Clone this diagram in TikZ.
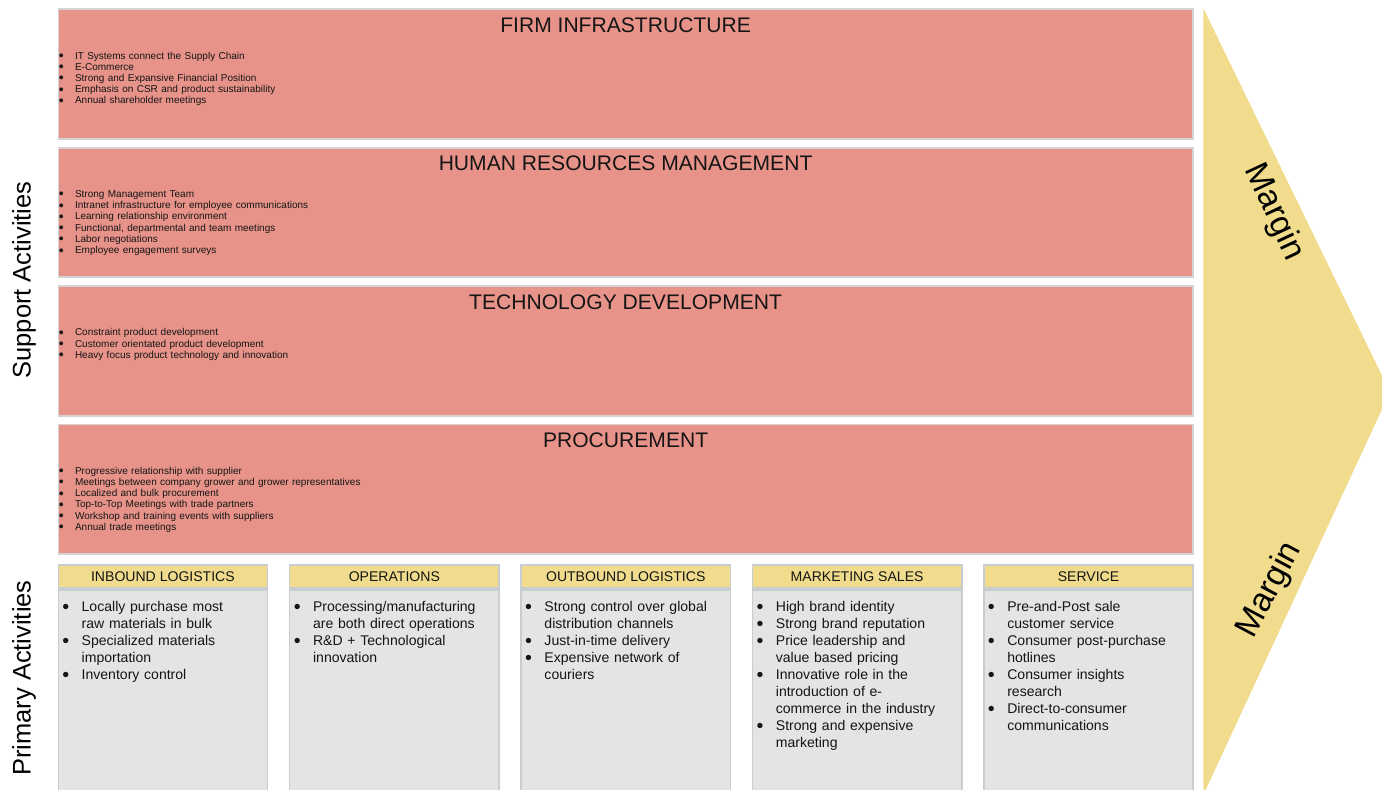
\documentclass[tikz,border=0pt]{standalone}
\usepackage{fontspec}
\usepackage{graphicx}
\setmainfont{Liberation Sans}
\usetikzlibrary{positioning,calc}
\definecolor{ink}{HTML}{151515}
\definecolor{salmon}{HTML}{E79389}
\definecolor{edge}{HTML}{D3D3D3}
\definecolor{sand}{HTML}{F0DC8C}
\definecolor{mist}{HTML}{E4E4E4}
\definecolor{rim}{HTML}{C8CDD2}
\newlength{\bulletgap}
% one bullet point; wrapped lines hang under the text
\newcommand{\bitem}[1]{\noindent\hangindent=\bulletgap\hangafter=1\strut\makebox[\bulletgap][l]{\raisebox{-0.14em}{\scalebox{1.4}{\textbullet}}}#1\par}
\tikzset{
  supbox/.style={anchor=north west, draw=edge, fill=salmon, line width=1.1pt, minimum width=22.69cm, minimum height=2.59cm, inner sep=0pt},
  suptitle/.style={anchor=base, font=\fontsize{12}{14}\selectfont, text=ink, inner sep=0pt},
  suplist/.style={anchor=north west, inner sep=0pt, text width=12cm, text=ink, font=\fontsize{5.7}{6.4}\selectfont\setlength{\bulletgap}{9.2pt}\raggedright},
  headbox/.style={anchor=north west, draw=rim, fill=sand, line width=0.9pt, minimum width=4.186cm, minimum height=0.47cm, inner sep=0pt, font=\fontsize{8}{9.6}\selectfont, text=ink},
  bodybox/.style={draw=rim, fill=mist, line width=0.9pt, minimum width=4.186cm, minimum height=4.3cm, inner sep=0pt},
  prilist/.style={anchor=north west, inner sep=0pt, text width=4.05cm, text=ink, font=\fontsize{8}{9.7}\selectfont\setlength{\bulletgap}{11pt}\raggedright},
  side/.style={font=\fontsize{14.5}{16}\selectfont, text=black, inner sep=0pt},
  marg/.style={font=\fontsize{19}{22}\selectfont, text=black, inner sep=0pt},
}
\begin{document}
\begin{tikzpicture}[x=0.02cm, y=-0.02cm]
  \useasboundingbox (0,0) rectangle (1382,790);
  % margin chevron
  \fill[sand] (1203.3,8.3) -- (1390,392) -- (1203.3,795) -- cycle;
  \node[marg, rotate=-65] (m1) at (1274,212) {Margin};
  \node[marg, rotate=62] (m2) at (1270,590) {Margin};

  % support activities
  \foreach \n/\t [count=\i from 0] in {fi/FIRM INFRASTRUCTURE, hr/HUMAN RESOURCES MANAGEMENT, td/TECHNOLOGY DEVELOPMENT, pr/PROCUREMENT} {
    \node[supbox] (\n) at (57.5,{8.3+138.4*\i}) {};
    \node[suptitle] (\n-t) at ($(\n.north)+(0,24)$) {\t};
  }
  \node[suplist] (fi-l) at ($(fi.north west)+(1,42.5)$) {\bitem{IT Systems connect the Supply Chain}\bitem{E-Commerce}\bitem{Strong and Expansive Financial Position}\bitem{Emphasis on CSR and product sustainability}\bitem{Annual shareholder meetings}};
  \node[suplist] (hr-l) at ($(hr.north west)+(1,42.5)$) {\bitem{Strong Management Team}\bitem{Intranet infrastructure for employee communications}\bitem{Learning relationship environment}\bitem{Functional, departmental and team meetings}\bitem{Labor negotiations}\bitem{Employee engagement surveys}};
  \node[suplist] (td-l) at ($(td.north west)+(1,42.5)$) {\bitem{Constraint product development}\bitem{Customer orientated product development}\bitem{Heavy focus product technology and innovation}};
  \node[suplist] (pr-l) at ($(pr.north west)+(1,42.5)$) {\bitem{Progressive relationship with supplier}\bitem{Meetings between company grower and grower representatives}\bitem{Localized and bulk procurement}\bitem{Top-to-Top Meetings with trade partners}\bitem{Workshop and training events with suppliers}\bitem{Annual trade meetings}};

  % primary activities
  \foreach \n/\t [count=\i from 0] in {il/INBOUND LOGISTICS, op/OPERATIONS, ol/OUTBOUND LOGISTICS, ms/MARKETING SALES, sv/SERVICE} {
    \node[headbox] (\n-h) at ({57.5+231.4*\i},564) {\t};
    \node[bodybox, below=0pt of \n-h] (\n) {};
  }
  \node[prilist] (il-l) at ($(il.north west)+(4.5,10)$) {\bitem{Locally purchase most\newline raw materials in bulk}\bitem{Specialized materials\newline importation}\bitem{Inventory control}};
  \node[prilist] (op-l) at ($(op.north west)+(4.5,10)$) {\bitem{Processing/manufacturing\newline are both direct operations}\bitem{R\&D + Technological\newline innovation}};
  \node[prilist] (ol-l) at ($(ol.north west)+(4.5,10)$) {\bitem{Strong control over global\newline distribution channels}\bitem{Just-in-time delivery}\bitem{Expensive network of\newline couriers}};
  \node[prilist] (ms-l) at ($(ms.north west)+(4.5,10)$) {\bitem{High brand identity}\bitem{Strong brand reputation}\bitem{Price leadership and\newline value based pricing}\bitem{Innovative role in the\newline introduction of e-\newline commerce in the industry}\bitem{Strong and expensive\newline marketing}};
  \node[prilist] (sv-l) at ($(sv.north west)+(4.5,10)$) {\bitem{Pre-and-Post sale\newline customer service}\bitem{Consumer post-purchase\newline hotlines}\bitem{Consumer insights\newline research}\bitem{Direct-to-consumer\newline communications}};

  \node[side, rotate=90] (sa) at (24,280) {Support Activities};
  \node[side, rotate=90] (pa) at (24,678) {Primary Activities};
\end{tikzpicture}
\end{document}
